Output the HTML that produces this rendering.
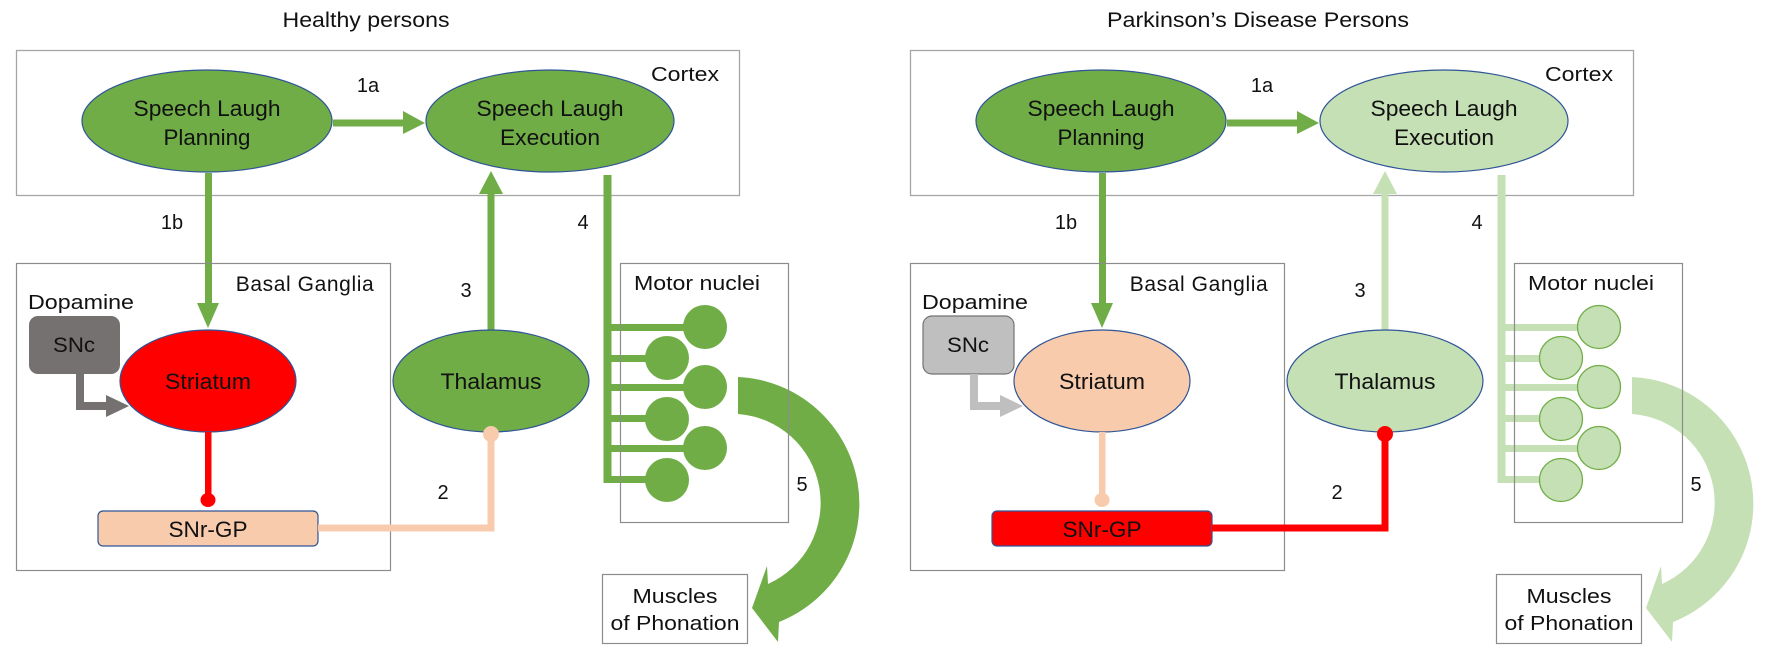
<!DOCTYPE html>
<html><head><meta charset="utf-8"><style>
html,body{margin:0;padding:0;background:#fff;}
svg{display:block;}
text{font-family:"Liberation Sans",Arial,sans-serif;fill:#111;}
</style></head><body>
<svg width="1770" height="658" viewBox="0 0 1770 658" xmlns="http://www.w3.org/2000/svg">

<!-- ================= LEFT PANEL ================= -->
<g>
<text x="366" y="27" font-size="21" text-anchor="middle" textLength="167" lengthAdjust="spacingAndGlyphs">Healthy persons</text>
<rect x="16.5" y="50.5" width="723" height="145" fill="none" stroke="#a6a6a6" stroke-width="1.3"/>
<text x="685" y="81" font-size="20" text-anchor="middle" textLength="68" lengthAdjust="spacingAndGlyphs">Cortex</text>

<ellipse cx="207" cy="121" rx="125" ry="51" fill="#70AD47" stroke="#2F5597" stroke-width="1.2"/>
<text x="207" y="116" font-size="22" text-anchor="middle" textLength="147" lengthAdjust="spacingAndGlyphs">Speech Laugh</text>
<text x="207" y="145" font-size="22" text-anchor="middle" textLength="87" lengthAdjust="spacingAndGlyphs">Planning</text>

<ellipse cx="550" cy="121" rx="124" ry="51" fill="#70AD47" stroke="#2F5597" stroke-width="1.2"/>
<text x="550" y="116" font-size="22" text-anchor="middle" textLength="147" lengthAdjust="spacingAndGlyphs">Speech Laugh</text>
<text x="550" y="145" font-size="22" text-anchor="middle" textLength="100" lengthAdjust="spacingAndGlyphs">Execution</text>

<rect x="333" y="119.5" width="72" height="7" fill="#70AD47"/>
<polygon points="403,111 425,123 403,134" fill="#70AD47"/>
<text x="368" y="92" font-size="20" text-anchor="middle">1a</text>

<rect x="205" y="173" width="7" height="132" fill="#70AD47"/>
<polygon points="197,303 219,303 208,328" fill="#70AD47"/>
<text x="172" y="229" font-size="20" text-anchor="middle">1b</text>

<rect x="487.5" y="190" width="7" height="140" fill="#70AD47"/>
<polygon points="479,194 503,194 491,171" fill="#70AD47"/>
<text x="466" y="297" font-size="20" text-anchor="middle">3</text>

<rect x="603.5" y="175" width="8" height="308" fill="#70AD47"/>
<text x="583" y="229" font-size="20" text-anchor="middle">4</text>

<g fill="#70AD47">
<rect x="604" y="324" width="100" height="7"/>
<rect x="604" y="355" width="62" height="7"/>
<rect x="604" y="384" width="100" height="7"/>
<rect x="604" y="415" width="62" height="7"/>
<rect x="604" y="445" width="100" height="7"/>
<rect x="604" y="476" width="62" height="7"/>
<circle cx="705" cy="327" r="22"/>
<circle cx="667" cy="358" r="22"/>
<circle cx="705" cy="387" r="22"/>
<circle cx="667" cy="419" r="22"/>
<circle cx="705" cy="448" r="22"/>
<circle cx="667" cy="480" r="22"/>
</g>

<path d="M738,377 A127,127 0 0 1 779,622 L778,642 L752,608 L767,566 L768,584 A89,89 0 0 0 738,414 Z" fill="#70AD47"/>
<rect x="620.5" y="263.5" width="168" height="259" fill="none" stroke="#8c8c8c" stroke-width="1.2"/>
<text x="697" y="290" font-size="20" text-anchor="middle" textLength="126" lengthAdjust="spacingAndGlyphs">Motor nuclei</text>
<text x="802" y="491" font-size="20" text-anchor="middle">5</text>

<rect x="602.5" y="574.5" width="145" height="69" fill="#fff" stroke="#8c8c8c" stroke-width="1.2"/>
<text x="675" y="603" font-size="20" text-anchor="middle" textLength="85" lengthAdjust="spacingAndGlyphs">Muscles</text>
<text x="675" y="630" font-size="20" text-anchor="middle" textLength="129" lengthAdjust="spacingAndGlyphs">of Phonation</text>

<rect x="16.5" y="263.5" width="374" height="307" fill="none" stroke="#8c8c8c" stroke-width="1.2"/>
<text x="305" y="291" font-size="21" text-anchor="middle" letter-spacing="0.6">Basal Ganglia</text>
<text x="81" y="309" font-size="20" text-anchor="middle" textLength="106" lengthAdjust="spacingAndGlyphs">Dopamine</text>
<rect x="29" y="316" width="91" height="58" rx="9" fill="#767171"/>
<text x="74" y="352" font-size="21" text-anchor="middle" textLength="42" lengthAdjust="spacingAndGlyphs">SNc</text>
<path d="M80,374 V406 H108" fill="none" stroke="#767171" stroke-width="8"/>
<polygon points="106,395 129,406 106,417" fill="#767171"/>

<ellipse cx="208" cy="381" rx="88" ry="51" fill="#FF0000" stroke="#2F5597" stroke-width="1.2"/>
<text x="208" y="389" font-size="22" text-anchor="middle" textLength="86" lengthAdjust="spacingAndGlyphs">Striatum</text>
<rect x="205" y="432" width="6.5" height="66" fill="#FF0000"/>
<ellipse cx="208" cy="500" rx="7.5" ry="7" fill="#FF0000"/>

<rect x="98" y="511" width="220" height="35" rx="5" fill="#F8CBAD" stroke="#2F5597" stroke-width="1.2"/>
<text x="208" y="537" font-size="22" text-anchor="middle" textLength="79" lengthAdjust="spacingAndGlyphs">SNr-GP</text>

<path d="M318,528 H491 V436" fill="none" stroke="#F8CBAD" stroke-width="7"/>
<ellipse cx="491" cy="381" rx="98" ry="51" fill="#70AD47" stroke="#2F5597" stroke-width="1.2"/>
<text x="491" y="389" font-size="22" text-anchor="middle" textLength="101" lengthAdjust="spacingAndGlyphs">Thalamus</text>
<circle cx="491" cy="434" r="8" fill="#F8CBAD"/>
<text x="443" y="499" font-size="20" text-anchor="middle">2</text>
</g>

<!-- ================= RIGHT PANEL ================= -->
<g transform="translate(894,0)">
<text x="364" y="27" font-size="21" text-anchor="middle" textLength="302" lengthAdjust="spacingAndGlyphs">Parkinson’s Disease Persons</text>
<rect x="16.5" y="50.5" width="723" height="145" fill="none" stroke="#a6a6a6" stroke-width="1.3"/>
<text x="685" y="81" font-size="20" text-anchor="middle" textLength="68" lengthAdjust="spacingAndGlyphs">Cortex</text>

<ellipse cx="207" cy="121" rx="125" ry="51" fill="#70AD47" stroke="#2F5597" stroke-width="1.2"/>
<text x="207" y="116" font-size="22" text-anchor="middle" textLength="147" lengthAdjust="spacingAndGlyphs">Speech Laugh</text>
<text x="207" y="145" font-size="22" text-anchor="middle" textLength="87" lengthAdjust="spacingAndGlyphs">Planning</text>

<ellipse cx="550" cy="121" rx="124" ry="51" fill="#C5E0B4" stroke="#2F5597" stroke-width="1.2"/>
<text x="550" y="116" font-size="22" text-anchor="middle" textLength="147" lengthAdjust="spacingAndGlyphs">Speech Laugh</text>
<text x="550" y="145" font-size="22" text-anchor="middle" textLength="100" lengthAdjust="spacingAndGlyphs">Execution</text>

<rect x="333" y="119.5" width="72" height="7" fill="#70AD47"/>
<polygon points="403,111 425,123 403,134" fill="#70AD47"/>
<text x="368" y="92" font-size="20" text-anchor="middle">1a</text>

<rect x="205" y="173" width="7" height="132" fill="#70AD47"/>
<polygon points="197,303 219,303 208,328" fill="#70AD47"/>
<text x="172" y="229" font-size="20" text-anchor="middle">1b</text>

<rect x="487.5" y="190" width="7" height="140" fill="#C5E0B4"/>
<polygon points="479,194 503,194 491,171" fill="#C5E0B4"/>
<text x="466" y="297" font-size="20" text-anchor="middle">3</text>

<rect x="603.5" y="175" width="8" height="308" fill="#C5E0B4"/>
<text x="583" y="229" font-size="20" text-anchor="middle">4</text>

<g fill="#C5E0B4">
<rect x="604" y="324" width="100" height="7"/>
<rect x="604" y="355" width="62" height="7"/>
<rect x="604" y="384" width="100" height="7"/>
<rect x="604" y="415" width="62" height="7"/>
<rect x="604" y="445" width="100" height="7"/>
<rect x="604" y="476" width="62" height="7"/>
</g>
<g fill="#C5E0B4" stroke="#70AD47" stroke-width="1.3">
<circle cx="705" cy="327" r="21.5"/>
<circle cx="667" cy="358" r="21.5"/>
<circle cx="705" cy="387" r="21.5"/>
<circle cx="667" cy="419" r="21.5"/>
<circle cx="705" cy="448" r="21.5"/>
<circle cx="667" cy="480" r="21.5"/>
</g>

<path d="M738,377 A127,127 0 0 1 779,622 L778,642 L752,608 L767,566 L768,584 A89,89 0 0 0 738,414 Z" fill="#C5E0B4"/>
<rect x="620.5" y="263.5" width="168" height="259" fill="none" stroke="#8c8c8c" stroke-width="1.2"/>
<text x="697" y="290" font-size="20" text-anchor="middle" textLength="126" lengthAdjust="spacingAndGlyphs">Motor nuclei</text>
<text x="802" y="491" font-size="20" text-anchor="middle">5</text>

<rect x="602.5" y="574.5" width="145" height="69" fill="#fff" stroke="#8c8c8c" stroke-width="1.2"/>
<text x="675" y="603" font-size="20" text-anchor="middle" textLength="85" lengthAdjust="spacingAndGlyphs">Muscles</text>
<text x="675" y="630" font-size="20" text-anchor="middle" textLength="129" lengthAdjust="spacingAndGlyphs">of Phonation</text>

<rect x="16.5" y="263.5" width="374" height="307" fill="none" stroke="#8c8c8c" stroke-width="1.2"/>
<text x="305" y="291" font-size="21" text-anchor="middle" letter-spacing="0.6">Basal Ganglia</text>
<text x="81" y="309" font-size="20" text-anchor="middle" textLength="106" lengthAdjust="spacingAndGlyphs">Dopamine</text>
<rect x="29" y="316" width="91" height="58" rx="9" fill="#BFBFBF" stroke="#767171" stroke-width="1.2"/>
<text x="74" y="352" font-size="21" text-anchor="middle" textLength="42" lengthAdjust="spacingAndGlyphs">SNc</text>
<path d="M80,374 V406 H108" fill="none" stroke="#BFBFBF" stroke-width="8"/>
<polygon points="106,395 129,406 106,417" fill="#BFBFBF"/>

<ellipse cx="208" cy="381" rx="88" ry="51" fill="#F8CBAD" stroke="#2F5597" stroke-width="1.2"/>
<text x="208" y="389" font-size="22" text-anchor="middle" textLength="86" lengthAdjust="spacingAndGlyphs">Striatum</text>
<rect x="205" y="432" width="6.5" height="66" fill="#F8CBAD"/>
<ellipse cx="208" cy="500" rx="7.5" ry="7" fill="#F8CBAD"/>

<rect x="98" y="511" width="220" height="35" rx="5" fill="#FF0000" stroke="#2F5597" stroke-width="1.2"/>
<text x="208" y="537" font-size="22" text-anchor="middle" textLength="79" lengthAdjust="spacingAndGlyphs">SNr-GP</text>

<path d="M318,528 H491 V436" fill="none" stroke="#FF0000" stroke-width="7"/>
<ellipse cx="491" cy="381" rx="98" ry="51" fill="#C5E0B4" stroke="#2F5597" stroke-width="1.2"/>
<text x="491" y="389" font-size="22" text-anchor="middle" textLength="101" lengthAdjust="spacingAndGlyphs">Thalamus</text>
<circle cx="491" cy="434" r="8" fill="#FF0000"/>
<text x="443" y="499" font-size="20" text-anchor="middle">2</text>
</g>
</svg>
</body></html>
